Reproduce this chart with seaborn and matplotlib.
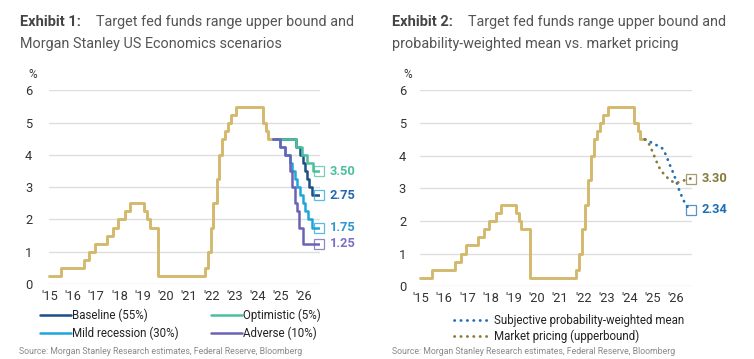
import matplotlib
matplotlib.use("Agg")
import matplotlib.pyplot as plt
import seaborn as sns
import pandas as pd

# --- data -------------------------------------------------------------
hist_dates = ['2015-06-15', '2015-12-17', '2016-12-15', '2017-03-16', '2017-06-15',
              '2017-12-14', '2018-03-22', '2018-06-14', '2018-09-27', '2018-12-20',
              '2019-08-01', '2019-09-19', '2019-10-31', '2020-03-10', '2022-03-17',
              '2022-05-05', '2022-06-16', '2022-07-28', '2022-09-22', '2022-11-03',
              '2022-12-15', '2023-02-02', '2023-03-23', '2023-05-04', '2023-07-27',
              '2024-09-19', '2024-11-08', '2024-12-19', '2025-03-01']
hist_rate = [0.25, 0.50, 0.75, 1.00, 1.25, 1.50, 1.75, 2.00, 2.25, 2.50,
             2.25, 2.00, 1.75, 0.25, 0.50, 1.00, 1.75, 2.50, 3.25, 4.00,
             4.50, 4.75, 5.00, 5.25, 5.50, 5.00, 4.75, 4.50, 4.50]

# scenario paths (x in fractional years)
baseline_x = [2025.17, 2026.15, 2026.35, 2026.45, 2026.55, 2026.62, 2026.72, 2026.85, 2027.14]
baseline_y = [4.50, 4.25, 4.00, 3.75, 3.50, 3.25, 3.00, 2.75, 2.75]
optimistic_x = [2025.17, 2026.15, 2026.4, 2026.65, 2026.9, 2027.14]
optimistic_y = [4.50, 4.25, 4.00, 3.75, 3.50, 3.50]
mild_x = [2025.17, 2025.45, 2025.7, 2025.9, 2025.97, 2026.1, 2026.2, 2026.35,
          2026.45, 2026.55, 2026.7, 2026.85, 2027.14]
mild_y = [4.50, 4.25, 4.00, 3.75, 3.50, 3.25, 3.00, 2.75, 2.50, 2.25, 2.00, 1.75, 1.75]
adverse_x = [2025.17, 2025.45, 2025.7, 2025.9, 2026.0, 2026.1, 2026.2, 2026.3, 2026.45, 2027.14]
adverse_y = [4.50, 4.25, 4.00, 3.50, 3.00, 2.50, 2.25, 1.75, 1.25, 1.25]

mean_x = [2025.17, 2025.4, 2025.65, 2025.93, 2026.08, 2026.22, 2026.37, 2026.51,
          2026.65, 2026.8, 2026.94, 2027.14]
mean_y = [4.50, 4.42, 4.33, 4.22, 4.02, 3.76, 3.51, 3.25, 2.94, 2.69, 2.48, 2.34]
market_x = [2025.17, 2025.35, 2025.5, 2025.65, 2025.8, 2026.0, 2026.25, 2026.5,
            2026.75, 2027.0, 2027.14]
market_y = [4.50, 4.35, 4.12, 3.85, 3.62, 3.42, 3.25, 3.15, 3.22, 3.27, 3.30]

year_labels = ["'15", "'16", "'17", "'18", "'19", "'20", "'21", "'22", "'23", "'24", "'25", "'26"]
year_pos = [2015.5 + i for i in range(len(year_labels))]

GOLD = '#d4b96d'
NAVY = '#1d4f82'
TEAL = '#4bbf9e'
CYAN = '#1ea6dc'
PURPLE = '#6b62b6'
BLUE = '#1f6fb6'
OLIVE = '#877a3a'


def frac_year(s):
    d = pd.Timestamp(s)
    return d.year + (d.dayofyear - 1) / 365.25


hist = pd.DataFrame({'x': [frac_year(d) for d in hist_dates], 'rate': hist_rate})

sns.set_theme(style="white")
plt.rcParams['font.family'] = ['Roboto', 'DejaVu Sans']
NARROW = ['Liberation Sans Narrow', 'Roboto', 'DejaVu Sans']

fig = plt.figure(figsize=(7.54, 3.59), dpi=100)
ax1 = fig.add_axes([0.065, 0.209, 0.3594, 0.539])
ax2 = fig.add_axes([0.557, 0.203, 0.3607, 0.545])


def style_axis(ax, ypad, pct_x):
    ax.set_xlim(2015.45, 2027.2)
    ax.set_ylim(0, 6)
    ax.set_yticks(range(0, 7))
    ax.set_xticks(year_pos)
    ax.set_xticklabels(year_labels)
    ax.grid(axis='y', color='#dedede', lw=1.0)
    ax.grid(axis='x', visible=False)
    for s in ax.spines.values():
        s.set_visible(False)
    ax.tick_params(axis='y', length=0, pad=ypad, labelcolor='#333333')
    ax.tick_params(axis='x', length=0, pad=4, labelcolor='#333333')
    for lab in ax.get_xticklabels() + ax.get_yticklabels():
        lab.set_family(NARROW)
        lab.set_fontsize(9.3)
    ax.set_xlabel('')
    ax.set_ylabel('')
    ax.text(pct_x, 1.08, '%', transform=ax.transAxes, ha='center', va='center',
            fontsize=8.5, color='#333333', family=NARROW)


def end_box(ax, x, y, color, label, label_color):
    ax.plot([x], [y], marker='s', ms=6.5, mfc='none', mec=color, mew=0.9,
            alpha=0.75, clip_on=False, zorder=5)
    ax.annotate(label, (x, y), xytext=(8, 0), textcoords='offset points',
                ha='left', va='center', fontsize=9.3, fontweight='bold',
                color=label_color, family=NARROW)


# --- Exhibit 1 ---------------------------------------------------------
sns.lineplot(data=hist, x='x', y='rate', ax=ax1, color=GOLD, lw=2.1,
             drawstyle='steps-post', clip_on=False)
scen = [(baseline_x, baseline_y, NAVY, 'Baseline (55%)'),
        (mild_x, mild_y, CYAN, 'Mild recession (30%)'),
        (optimistic_x, optimistic_y, TEAL, 'Optimistic (5%)'),
        (adverse_x, adverse_y, PURPLE, 'Adverse (10%)')]
handles = {}
for xs, ys, c, lab in scen:
    ln, = ax1.plot(xs, ys, color=c, lw=1.8, drawstyle='steps-post', label=lab)
    handles[lab] = ln

style_axis(ax1, 12, -0.059)
end_box(ax1, optimistic_x[-1], optimistic_y[-1], TEAL, '3.50', TEAL)
end_box(ax1, baseline_x[-1], baseline_y[-1], CYAN, '2.75', '#2468b0')
end_box(ax1, mild_x[-1], mild_y[-1], CYAN, '1.75', '#2a98d4')
end_box(ax1, adverse_x[-1], adverse_y[-1], PURPLE, '1.25', '#7a70c4')

leg_kw = dict(frameon=False, loc='upper left', handlelength=2.65,
              handletextpad=0.1, labelspacing=0.4, borderpad=0, borderaxespad=0,
              labelcolor='#222222', prop={'family': NARROW, 'size': 8.3})
l1 = fig.legend([handles['Baseline (55%)'], handles['Mild recession (30%)']],
                ['Baseline (55%)', 'Mild recession (30%)'],
                bbox_to_anchor=(40 / 754, 1 - 309 / 359), **leg_kw)
l2 = fig.legend([handles['Optimistic (5%)'], handles['Adverse (10%)']],
                ['Optimistic (5%)', 'Adverse (10%)'],
                bbox_to_anchor=(211 / 754, 1 - 309 / 359), **leg_kw)

# --- Exhibit 2 ---------------------------------------------------------
sns.lineplot(data=hist, x='x', y='rate', ax=ax2, color=GOLD, lw=2.1,
             drawstyle='steps-post', clip_on=False)
m1, = ax2.plot(mean_x, mean_y, color=BLUE, lw=2.0, linestyle=(0, (0.1, 2.2)),
               dash_capstyle='round', label='Subjective probability-weighted mean')
m2, = ax2.plot(market_x, market_y, color=OLIVE, lw=2.0, linestyle=(0, (0.1, 2.2)),
               dash_capstyle='round', label='Market pricing (upperbound)')
style_axis(ax2, 10, -0.045)
end_box(ax2, market_x[-1], market_y[-1], OLIVE, '3.30', OLIVE)
end_box(ax2, mean_x[-1], mean_y[-1], BLUE, '2.34', BLUE)

leg_kw2 = dict(leg_kw)
leg_kw2['handlelength'] = 3.2
leg_kw2['handletextpad'] = 0.3
leg_kw2['labelspacing'] = 0.25
fig.legend([m1, m2], ['Subjective probability-weighted mean', 'Market pricing (upperbound)'],
           bbox_to_anchor=(454 / 754, 1 - 314 / 359), **leg_kw2)

# --- titles & source -----------------------------------------------------
TCOL = '#555555'
fig.text(20 / 754, 1 - 22 / 359, 'Exhibit 1:', fontsize=10.5, fontweight='bold',
         color='#444444', va='center')
fig.text(96 / 754, 1 - 22 / 359, 'Target fed funds range upper bound and',
         fontsize=10.4, color=TCOL, va='center')
fig.text(20 / 754, 1 - 44 / 359, 'Morgan Stanley US Economics scenarios',
         fontsize=10.4, color=TCOL, va='center')
fig.text(392 / 754, 1 - 22 / 359, 'Exhibit 2:', fontsize=10.5, fontweight='bold',
         color='#444444', va='center')
fig.text(468 / 754, 1 - 22 / 359, 'Target fed funds range upper bound and',
         fontsize=10.4, color=TCOL, va='center')
fig.text(392 / 754, 1 - 44 / 359, 'probability-weighted mean vs. market pricing',
         fontsize=10.4, color=TCOL, va='center')

src = 'Source: Morgan Stanley Research estimates, Federal Reserve, Bloomberg'
fig.text(19 / 754, 1 - 352 / 359, src, fontsize=6.35, color='#8a8a8a', va='center')
fig.text(392 / 754, 1 - 352 / 359, src, fontsize=6.35, color='#8a8a8a', va='center')

fig.savefig('out.png', dpi=100, facecolor='white')
